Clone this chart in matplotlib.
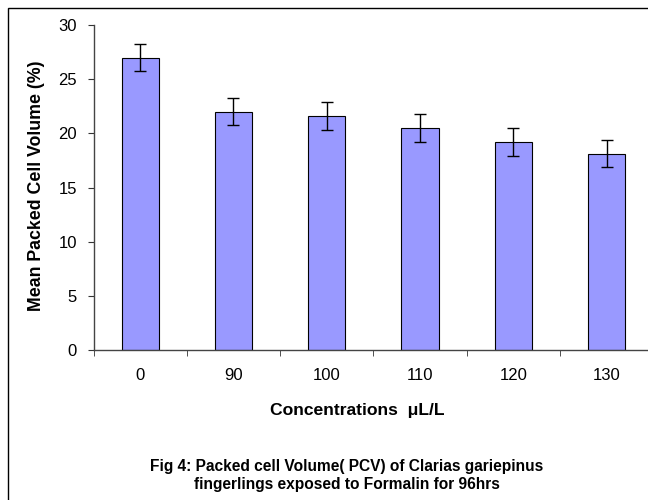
import matplotlib
matplotlib.use('Agg')
import matplotlib.pyplot as plt
from matplotlib.patches import Rectangle

plt.rcParams['font.family'] = ['Liberation Sans', 'DejaVu Sans']

# dados
concentrations = ['0', '90', '100', '110', '120', '130']
mean_pcv = [27.0, 22.0, 21.6, 20.5, 19.2, 18.1]
pcv_err = [1.25, 1.25, 1.3, 1.3, 1.25, 1.25]

W, H = 648, 500
fig = plt.figure(figsize=(W / 100, H / 100), dpi=100)

# moldura da figura (cortada à direita e embaixo como no original)
fig.patches.append(Rectangle((8 / W, -0.1), 1.2, 1 - 8 / H + 0.1,
                             transform=fig.transFigure, fill=False,
                             edgecolor='black', linewidth=1.0))

ax = fig.add_axes([93.5 / W, 1 - 350 / H, 560 / W, 325 / H])
x = list(range(len(concentrations)))
ax.bar(x, mean_pcv, width=0.4, color='#9999FF', edgecolor='black',
       linewidth=0.8, zorder=2)
ax.errorbar(x, mean_pcv, yerr=pcv_err, fmt='none', ecolor='black',
            elinewidth=1.0, capsize=4.5, capthick=1.0, zorder=3)

ax.set_xlim(-0.5, len(concentrations) - 0.5)
ax.set_ylim(0, 30)
ax.set_yticks(range(0, 31, 5))
ax.set_xticks(x)
ax.set_xticklabels(concentrations)
ax.set_xticks([i - 0.5 for i in range(len(concentrations) + 1)], minor=True)
ax.tick_params(axis='x', which='major', length=0, pad=13, labelsize=12)
ax.tick_params(axis='x', which='minor', length=4, direction='out', color='#333333')
ax.tick_params(axis='y', length=4, direction='out', pad=8, labelsize=12, color='#333333')

for s in ['top', 'right']:
    ax.spines[s].set_visible(False)
for s in ['left', 'bottom']:
    ax.spines[s].set_color('#444444')
    ax.spines[s].set_linewidth(1.0)

fig.text(37 / W, 1 - 186 / H, 'Mean Packed Cell Volume (%)', rotation=90,
         ha='center', va='center', fontsize=12.8, fontweight='bold')
fig.text(357 / W, 1 - 411 / H, 'Concentrations  μL/L', ha='center', va='center',
         fontsize=12.6, fontweight='bold')
fig.text(347 / W, 1 - 466 / H, 'Fig 4: Packed cell Volume( PCV) of Clarias gariepinus',
         ha='center', va='center', fontsize=11.2, fontweight='bold')
fig.text(347 / W, 1 - 485 / H, 'fingerlings exposed to Formalin for 96hrs',
         ha='center', va='center', fontsize=11.2, fontweight='bold')

plt.savefig('out.png', dpi=100, facecolor='white')
plt.close()
